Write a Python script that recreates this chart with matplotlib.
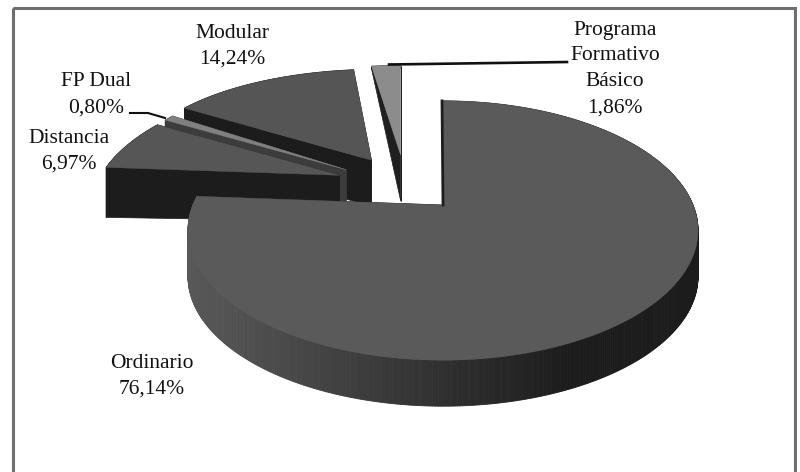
import numpy as np
import matplotlib
matplotlib.use("Agg")
import matplotlib.pyplot as plt
from matplotlib.collections import PolyCollection
from matplotlib.patches import Rectangle

categories = ["Ordinario", "Distancia", "FP Dual", "Modular", "Programa\nFormativo\nBásico"]
values = [76.14, 6.97, 0.80, 14.24, 1.86]
value_labels = ["76,14%", "6,97%", "0,80%", "14,24%", "1,86%"]

# Projection of the unit pie plane to the picture (pixels)
CX, CY, RX, RY, K = 443.0, 205.0, 250.0, 124.6, 0.197
DEPTH = 46.0

# Style per slice: plane offset, top colour, side colour, perspective in x, depth at the rim
styles = {
    "Ordinario": dict(off=(0.0, 0.0), top="#5a5a5a", cut="#1e1e1e", px=1.0, rim=DEPTH),
    "Distancia": dict(off=(-0.435, 0.25), top="#565656", cut="#1c1c1c", px=1.0, rim=50.0),
    "FP Dual": dict(off=(-0.41, 0.30), top="#808080", cut="#3c3c3c", px=1.0, rim=DEPTH),
    "Modular": dict(off=(-0.299, 0.387), top="#555555", cut="#1c1c1c", px=0.6, rim=DEPTH),
    "PFB": dict(off=(-0.169, 0.434), top="#8c8c8c", cut="#1f1f1f", px=0.0, rim=3.0),
}
style_keys = ["Ordinario", "Distancia", "FP Dual", "Modular", "PFB"]
draw_order = [3, 4, 2, 1, 0]


def project(X, Y, px=1.0):
    w = 1 + K * Y
    wx = 1 + K * px * Y
    return CX + RX * X / wx, CY - RY * Y / w


def rim_shade(x):
    t = np.clip((x - 190) / (700 - 190), 0, 1)
    return str(round(float((0x58 + (0x1c - 0x58) * min(t * 1.35, 1)) / 255), 3))


fig = plt.figure(figsize=(8, 4.72), dpi=100, facecolor="white")
ax = fig.add_axes([0, 0, 1, 1])
ax.set_xlim(0, 800)
ax.set_ylim(472, 0)
ax.axis("off")

ax.add_patch(Rectangle((12.5, 8), 782.5, 480, fill=False, ec="#6e6e6e", lw=2.2, zorder=1))

fractions = np.array(values) / sum(values) * 360
starts = np.concatenate([[0], np.cumsum(fractions)[:-1]])

zorder = 2
for i in draw_order:
    st = styles[style_keys[i]]
    a0, a1 = np.radians(starts[i]), np.radians(starts[i] + fractions[i])
    th = np.linspace(a0, a1, max(8, int(fractions[i] * 2)))
    ox, oy = st["off"]
    rx, ry = project(ox + np.sin(th), oy + np.cos(th), st["px"])
    ax0, ay0 = project(ox, oy, st["px"])

    # radial cut faces
    for rr_x, rr_y in ((rx[0], ry[0]), (rx[-1], ry[-1])):
        ax.fill([ax0, rr_x, rr_x, ax0], [ay0, rr_y, rr_y + st["rim"], ay0 + DEPTH],
                color=st["cut"], lw=0.5, zorder=zorder)
    # outer rim
    polys, cols = [], []
    for j in range(len(th) - 1):
        polys.append([(rx[j], ry[j]), (rx[j + 1], ry[j + 1]),
                      (rx[j + 1], ry[j + 1] + st["rim"]), (rx[j], ry[j] + st["rim"])])
        cols.append(rim_shade((rx[j] + rx[j + 1]) / 2) if i == 0 else st["cut"])
    ax.add_collection(PolyCollection(polys, facecolors=cols, edgecolors=cols, linewidths=0.6, zorder=zorder))
    # top surface
    ax.fill(np.r_[ax0, rx], np.r_[ay0, ry], color=st["top"], lw=0.3, zorder=zorder + 0.5)
    # thin dark strip on the vertical cut of the main slice
    if i == 0:
        ax.plot([rx[0] - 1, ax0], [ry[0], ay0], color="#1e1e1e", lw=2, zorder=zorder + 0.6)
    zorder += 1

ax.plot([130, 148, 165], [113, 113, 118], color="#111111", lw=1.5, zorder=20)
ax.plot([389, 567], [64.5, 62], color="#111111", lw=1.9, zorder=20)

font = dict(family="Liberation Serif", fontsize=15.5, color="#111111", ha="center", va="center", zorder=30)
label_pos = {
    "Ordinario": (152, 363),
    "Distancia": (69, 151.5),
    "FP Dual": (96, 95),
    "Modular": (232, 46),
    "PFB": (615, 69),
}
for key, cat, lab in zip(style_keys, categories, value_labels):
    x, y = label_pos[key]
    lines = cat.split("\n") + [lab]
    n = len(lines)
    for k, line in enumerate(lines):
        yy = y + (k - (n - 1) / 2) * 26 + (13 if key == "Ordinario" else 0)
        ax.text(x, yy, line, **font)

fig.savefig("out.png", dpi=100)
